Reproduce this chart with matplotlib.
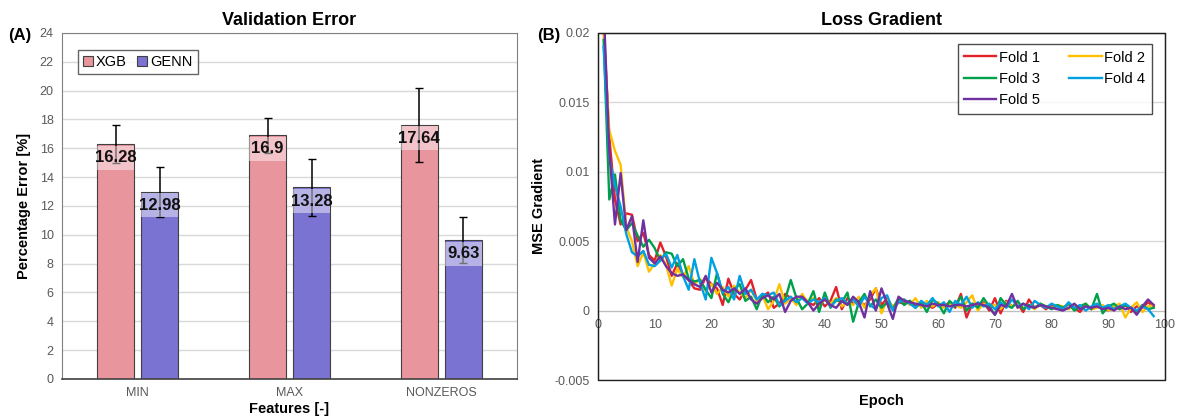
import numpy as np
import matplotlib
matplotlib.use("Agg")
import matplotlib.pyplot as plt
from matplotlib.patches import Rectangle

plt.rcParams['font.family'] = ['Liberation Sans', 'DejaVu Sans']

# ---- panel A data ----
features = ["MIN", "MAX", "NONZEROS"]
xgb_err = [16.28, 16.9, 17.64]
genn_err = [12.98, 13.28, 9.63]
xgb_sd = [1.32, 1.2, 2.56]
genn_sd = [1.72, 2.0, 1.6]

# ---- panel B data (MSE gradient, in units of 1e-3) ----
epochs = list(range(1, 99))
fold1 = [20.5, 12.5, 8.0, 6.2, 7.0, 6.9, 5.0, 5.6, 4.0, 3.6, 4.9, 3.9, 2.5, 3.4, 2.6, 2.2, 1.6, 1.5, 2.4, 1.9,
         1.6, 0.4, 2.3, 1.2, 0.8, 1.5, 2.2, 0.8, 1.0, 1.3, 0.2, 0.5, 1.2, 0.9, 0.6, 1.0, 0.6, 0.4, 0.9, 0.3,
         0.7, 1.7, 0.1, 0.9, 0.5, 0.7, 0.4, 0.8, 1.6, 0.4, 0.9, 0.2, 0.6, 0.5, 0.7, 0.3, 0.6, 0.4, 0.2, 0.5,
         0.3, 0.6, 0.2, 1.2, -0.5, 0.5, 0.3, 0.6, 0.0, 0.9, -0.2, 0.7, 0.3, 0.5, -0.1, 0.8, 0.2, 0.4, 0.1, 0.4,
         0.3, 0.1, 0.5, 0.2, -0.1, 0.4, 0.1, 0.3, 0.2, 0.0, 0.3, 0.1, 0.4, -0.1, 0.3, 0.2, 0.6, 0.3]
fold2 = [20.0, 13.0, 11.5, 10.5, 6.0, 5.0, 3.2, 4.2, 2.8, 3.4, 4.0, 3.3, 1.8, 3.0, 2.4, 3.2, 1.9, 2.3, 1.4, 1.9,
         1.2, 1.7, 1.0, 1.8, 1.3, 0.9, 1.5, 0.7, 1.1, 0.1, 0.7, 1.9, 0.5, 0.9, 0.4, 1.2, 0.6, 0.9, 0.3, 0.8,
         0.5, 0.9, 0.3, 0.6, 0.4, 1.0, 0.2, 1.1, 1.6, -0.2, 0.8, 0.3, 0.7, 0.8, 0.4, 0.9, 0.2, 0.7, 0.3, 0.6,
         0.2, 0.5, 0.4, 0.2, 0.6, 1.1, 0.0, 0.5, 0.3, 0.4, 0.1, 0.6, 0.3, 0.5, 0.2, 0.4, 0.1, 0.5, 0.3, 0.2,
         0.4, 0.3, 0.1, 0.4, 0.2, 0.5, 0.1, 0.2, 0.4, 0.0, 0.3, 0.5, -0.5, 0.2, 0.6, -0.1, 0.3, 0.4]
fold3 = [19.5, 8.0, 9.8, 6.5, 5.8, 6.3, 5.4, 4.6, 5.1, 4.5, 3.6, 4.2, 4.1, 3.2, 3.7, 2.3, 2.1, 2.2, 1.5, 0.9,
         2.7, 1.2, 0.6, 1.5, 1.9, 0.7, 1.0, 0.1, 1.2, 0.6, 1.0, 0.3, 0.8, 2.2, 0.9, 0.1, 0.5, 1.4, -0.1, 1.3,
         0.2, 0.8, 0.6, 1.3, -0.8, 0.6, 1.2, 0.3, 0.8, 0.2, 0.6, 0.1, 0.9, 0.4, 0.7, 0.2, 0.6, -0.1, 0.8, 0.5,
         -0.2, 0.7, 0.3, 1.0, 0.0, 0.5, 0.2, 0.9, 0.3, -0.3, 0.9, 0.4, 0.2, 0.7, 0.1, 0.4, 0.2, 0.5, 0.3, 0.1,
         0.4, 0.2, 0.5, 0.0, 0.3, 0.5, 0.1, 1.2, -0.2, 0.3, 0.5, 0.1, 0.4, 0.2, -0.1, 0.4, 0.1, 0.2]
fold4 = [19.0, 11.0, 9.0, 7.5, 5.5, 4.2, 3.9, 4.3, 3.3, 3.2, 3.6, 4.1, 3.1, 4.0, 2.5, 1.5, 3.7, 2.0, 0.8, 3.8,
         2.7, 1.3, 1.7, 0.8, 2.5, 1.2, 1.5, 0.8, 1.2, 1.1, 1.3, 0.4, 0.7, 1.0, 0.6, 0.9, 0.5, 0.8, 0.6, 0.9,
         0.3, 0.7, 0.9, 0.5, 0.8, 0.3, 1.0, 0.4, 0.1, 0.9, 1.1, 0.0, 0.6, 0.8, 0.5, 0.2, 0.7, 0.4, 0.9, 0.3,
         0.6, -0.1, 0.7, 0.4, 1.0, 0.2, 0.6, 0.3, 0.5, 0.1, 0.6, 0.2, 0.8, 0.3, 0.5, 0.1, 0.7, 0.4, 0.2, 0.5,
         0.3, 0.1, 0.6, 0.2, 0.4, 0.0, 0.3, 0.5, 0.2, 0.4, 0.1, 0.3, 0.5, 0.2, 0.0, 0.3, 0.1, -0.4]
fold5 = [22.0, 11.5, 6.2, 9.9, 5.8, 6.8, 3.5, 6.5, 3.8, 3.4, 3.9, 3.2, 2.7, 2.5, 2.6, 2.2, 1.9, 1.7, 2.5, 1.3,
         2.0, 1.5, 1.3, 1.6, 1.2, 1.6, 0.8, 0.5, 0.9, 1.1, 0.8, 1.2, -0.1, 0.7, 1.0, 1.0, 0.6, 0.0, 0.5, 0.8,
         0.4, 0.2, 0.7, 0.4, 1.0, 0.6, -0.5, 1.4, 0.0, 1.6, 0.5, -0.6, 1.0, 0.7, 0.6, 0.5, 0.4, 0.3, 0.5, 0.4,
         0.4, 0.3, 0.4, 0.4, 0.3, 0.4, 0.5, 0.4, 0.2, -0.3, 0.4, 0.3, 1.2, 0.2, 0.5, 0.3, 0.2, 0.4, 0.3, 0.2,
         0.1, 0.0, 0.2, 0.5, 0.1, 0.3, 0.2, 0.3, 0.1, 0.2, 0.0, 0.3, 0.1, 0.2, -0.3, 0.3, 0.8, 0.4]
fold_names = ["Fold 1", "Fold 2", "Fold 3", "Fold 4", "Fold 5"]
fold_colors = ["#E3212B", "#FFC000", "#00A04B", "#00A0E3", "#7030A0"]

tick_gray = "#595959"
fig = plt.figure(figsize=(11.78, 4.16), dpi=100)

# ================= panel A =================
axA = fig.add_axes([0.0526, 0.089, 0.3864, 0.832])
x = np.arange(len(features))
w = 0.245
off = 0.145
axA.bar(x - off, xgb_err, w, color="#E8959E", edgecolor="#404040", linewidth=0.8, label="XGB", zorder=2)
axA.bar(x + off, genn_err, w, color="#7B73D1", edgecolor="#404040", linewidth=0.8, label="GENN", zorder=2)
axA.errorbar(x - off, xgb_err, yerr=xgb_sd, fmt="none", ecolor="black", elinewidth=1.1, capsize=3, zorder=3)
axA.errorbar(x + off, genn_err, yerr=genn_sd, fmt="none", ecolor="black", elinewidth=1.1, capsize=3, zorder=3)
for xs, vals in ((x - off, xgb_err), (x + off, genn_err)):
    for xi, v in zip(xs, vals):
        axA.add_patch(Rectangle((xi - w / 2, v - 1.78), w, 1.68, facecolor="white", alpha=0.45,
                                edgecolor="none", zorder=4))
        axA.text(xi, v - 0.95, f"{v:g}", ha="center", va="center", fontsize=12, fontweight="bold",
                 color="#111111", zorder=5)
axA.set_xlim(-0.5, 2.5)
axA.set_ylim(0, 24)
axA.set_yticks(np.arange(0, 25, 2))
axA.set_xticks(x)
axA.set_xticklabels(features)
axA.yaxis.grid(True, color="#D9D9D9", linewidth=1)
axA.set_axisbelow(True)
axA.tick_params(length=0, labelsize=9, colors=tick_gray, pad=6)
for s in axA.spines.values():
    s.set_color("#808080")
axA.spines['bottom'].set_color("#404040")
axA.spines['bottom'].set_linewidth(1.2)
axA.set_title("Validation Error", fontsize=13, fontweight="bold", pad=6)
axA.set_ylabel("Percentage Error [%]", fontsize=10.5, fontweight="bold", labelpad=6)
axA.set_xlabel("Features [-]", fontsize=10.5, fontweight="bold", labelpad=2)
legA = axA.legend(loc="upper left", ncol=2, bbox_to_anchor=(0.035, 0.95), borderaxespad=0, fontsize=10.5,
                  frameon=True, fancybox=False, edgecolor="#404040", handlelength=0.7, handleheight=0.7,
                  handletextpad=0.2, columnspacing=0.7, borderpad=0.35)
legA.get_frame().set_linewidth(1.0)
fig.text(0.007, 0.905, "(A)", fontsize=12, fontweight="bold")

# ================= panel B =================
axB = fig.add_axes([0.5076, 0.0865, 0.4814, 0.8345])
lines = []
for vals, name, c in zip([fold1, fold2, fold3, fold4, fold5], fold_names, fold_colors):
    ln, = axB.plot(epochs, np.array(vals) / 1000.0, color=c, linewidth=1.7, label=name, zorder=3)
    lines.append(ln)
axB.set_xlim(0, 100)
axB.set_ylim(-0.005, 0.02)
axB.set_yticks([-0.005, 0, 0.005, 0.01, 0.015, 0.02])
axB.set_yticklabels(["-0.005", "0", "0.005", "0.01", "0.015", "0.02"])
axB.set_xticks(np.arange(0, 101, 10))
axB.yaxis.grid(True, color="#D9D9D9", linewidth=1)
axB.set_axisbelow(True)
axB.spines['bottom'].set_position(('data', 0))
axB.spines['bottom'].set_color("#BFBFBF")
for s in ("left", "top", "right"):
    axB.spines[s].set_color("#202020")
axB.add_patch(Rectangle((0, 0), 1, 1, transform=axB.transAxes, fill=False, edgecolor="#202020",
                        linewidth=1.0, zorder=5, clip_on=False))
axB.tick_params(length=0, labelsize=9, colors=tick_gray, pad=6)
axB.set_title("Loss Gradient", fontsize=13, fontweight="bold", pad=6)
axB.set_ylabel("MSE Gradient", fontsize=10.5, fontweight="bold", labelpad=6)
axB.text(0.5, -0.04, "Epoch", transform=axB.transAxes, ha="center", va="top", fontsize=10.5,
         fontweight="bold")
# row-major order in a 2-column legend
order = [0, 2, 4, 1, 3]
legB = axB.legend([lines[i] for i in order], [fold_names[i] for i in order], loc="upper right", ncol=2,
                  bbox_to_anchor=(0.977, 0.968), borderaxespad=0, fontsize=10.5, frameon=True,
                  fancybox=False, edgecolor="#202020", handlelength=2.2, handletextpad=0.2,
                  columnspacing=2.0, borderpad=0.45, labelspacing=0.5)
legB.get_frame().set_linewidth(1.0)
fig.text(0.456, 0.905, "(B)", fontsize=12, fontweight="bold")

fig.savefig("out.png", dpi=100)
